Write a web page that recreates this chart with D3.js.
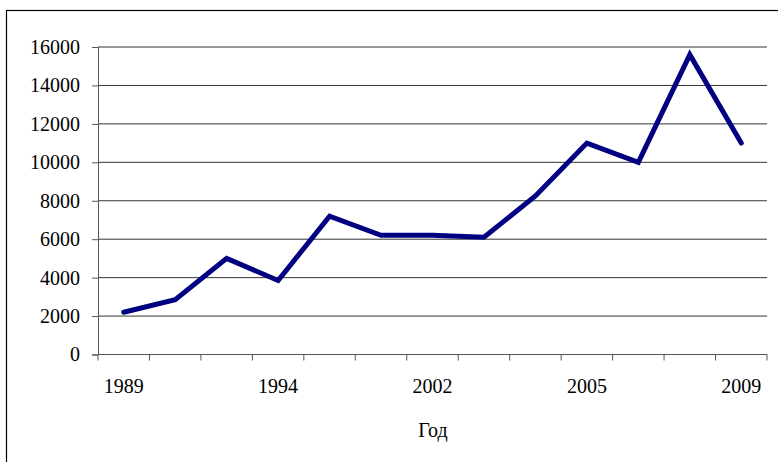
<!DOCTYPE html>
<html>
<head>
<meta charset="utf-8">
<script src="https://cdn.jsdelivr.net/npm/d3@7"></script>
<style>
  body { margin: 0; background: #fff; }
  text { font-family: "Liberation Serif", "Times New Roman", serif; fill: #000; }
</style>
</head>
<body>
<script>
// years on the category axis (only every third one is labelled)
const years = ["1989", "1990", "1992", "1994", "1996", "1998", "2002", "2003", "2004", "2005", "2006", "2008", "2009"];
const values = [2200, 2850, 5000, 3850, 7200, 6200, 6200, 6100, 8250, 11000, 10000, 15600, 11000];
const yTicks = [0, 2000, 4000, 6000, 8000, 10000, 12000, 14000, 16000];
const xTitle = "Год";

const width = 778, height = 462;
const plotLeft = 98, plotRight = 767, plotTop = 47, plotBottom = 354.5;

const svg = d3.select("body").append("svg")
  .attr("width", width)
  .attr("height", height);

// outer chart frame
svg.append("rect")
  .attr("x", 6.5).attr("y", 10.5)
  .attr("width", width).attr("height", height)
  .attr("fill", "none").attr("stroke", "#000").attr("stroke-width", 1.2);

const x = d3.scaleBand().domain(years).range([plotLeft, plotRight]).padding(0);
const y = d3.scaleLinear().domain([0, 16000]).range([plotBottom, plotTop]);

// gridlines
svg.append("g")
  .selectAll("line")
  .data(yTicks.filter(d => d > 0))
  .join("line")
  .attr("x1", plotLeft).attr("x2", plotRight)
  .attr("y1", d => y(d)).attr("y2", d => y(d))
  .attr("stroke", "#333").attr("stroke-width", 1);

// y axis
const yAxis = svg.append("g")
  .attr("transform", `translate(${plotLeft},0)`)
  .call(d3.axisLeft(y).tickValues(yTicks).tickSize(6).tickPadding(12).tickFormat(d3.format("d")));
yAxis.select(".domain").attr("stroke", "#555");
yAxis.selectAll(".tick line").attr("stroke", "#555");
yAxis.selectAll("text").attr("font-size", 20).attr("font-family", "Liberation Serif").attr("fill", "#000");

// x axis: ticks on band edges, labels on every third band
const edges = years.map(d => x(d)).concat([plotRight]);
svg.append("line")
  .attr("x1", plotLeft).attr("x2", plotRight)
  .attr("y1", plotBottom).attr("y2", plotBottom)
  .attr("stroke", "#555");
svg.append("g")
  .selectAll("line")
  .data(edges)
  .join("line")
  .attr("x1", d => d).attr("x2", d => d)
  .attr("y1", plotBottom).attr("y2", plotBottom + 6)
  .attr("stroke", "#555");
svg.append("g")
  .selectAll("text")
  .data(years.filter((d, i) => i % 3 === 0))
  .join("text")
  .attr("x", d => x(d) + x.bandwidth() / 2)
  .attr("y", 392.5)
  .attr("text-anchor", "middle")
  .attr("font-size", 20)
  .text(d => d);

svg.append("text")
  .attr("x", 433)
  .attr("y", 437)
  .attr("text-anchor", "middle")
  .attr("font-size", 20)
  .text(xTitle);

// data line
const line = d3.line()
  .x((d, i) => x(years[i]) + x.bandwidth() / 2)
  .y(d => y(d));

svg.append("path")
  .datum(values)
  .attr("d", line)
  .attr("fill", "none")
  .attr("stroke", "#000080")
  .attr("stroke-width", 5)
  .attr("stroke-linejoin", "miter")
  .attr("stroke-linecap", "round");
</script>
</body>
</html>
